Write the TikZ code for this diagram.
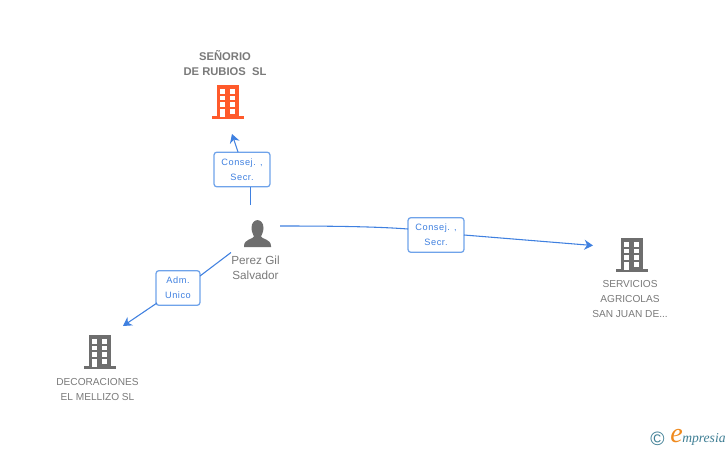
\documentclass[tikz,border=0pt]{standalone}
\usepackage{fontspec}
\setmainfont{Liberation Sans}
\newfontfamily\logofont{Liberation Serif}
\newfontfamily\roleFont[LetterSpace=6]{Liberation Sans}
\usetikzlibrary{arrows.meta}
\definecolor{linkblue}{HTML}{3F80E0}
\definecolor{boxblue}{HTML}{6FA3EA}
\definecolor{icongray}{HTML}{6E6E6E}
\definecolor{textgray}{HTML}{7A7A7A}
\definecolor{redicon}{HTML}{FF5A2B}
\definecolor{logoteal}{HTML}{3F7F95}
\definecolor{logoorange}{HTML}{F08A1E}
\tikzset{
  x=0.75pt,y=-0.75pt,
  bldg/.pic={
    \fill[pic actions] (-11,-34) rectangle (11,-2.5);
    \fill[pic actions] (-16,-2.8) rectangle (16,0);
    \foreach \wy in {-30,-23.3,-16.7}{
      \fill[white] (-7.6,\wy) rectangle (-2.8,\wy+4.6);
      \fill[white] (2.2,\wy) rectangle (7.2,\wy+4.6);
    }
    \fill[white] (-7.6,-10) rectangle (-2.8,-2.5);
    \fill[white] (2.2,-10) rectangle (7.2,-5.4);
  },
  person/.pic={
    \fill[pic actions] (-6,-19) .. controls (-6,-29.5) and (6,-29.5) .. (6,-19)
      .. controls (6,-15) and (4,-12) .. (3.5,-10.5)
      .. controls (4,-8) and (13.5,-8) .. (13.5,-1) -- (13.5,0) -- (-13.5,0) -- (-13.5,-1)
      .. controls (-13.5,-8) and (-4,-8) .. (-3.5,-10.5)
      .. controls (-4,-12) and (-6,-15) .. (-6,-19) -- cycle;
  },
  labelbox/.style={draw=boxblue,line width=0.95pt,rounded corners=2.2pt,fill=white,
    minimum width=42pt,minimum height=26pt,inner sep=0pt,align=center,
    font=\roleFont\fontsize{6.9pt}{11.2pt}\selectfont,text=linkblue},
  entname/.style={align=center,text=textgray,inner sep=0pt,
    font=\fontsize{7.6pt}{11.2pt}\selectfont},
  perslabel/.style={align=center,text=textgray,inner sep=0pt,
    font=\fontsize{8.8pt}{11.2pt}\selectfont},
  link/.style={draw=linkblue,line width=0.8pt},
  tip/.style={-{Stealth[length=6.5pt,width=7.5pt]}},
}
\begin{document}
\begin{tikzpicture}
\useasboundingbox (0,0) rectangle (728,450);
\fill[white] (0,0) rectangle (728,450);

% icons
\pic[fill=redicon] at (228,119) {bldg};
\pic[fill=icongray] at (632,272) {bldg};
\pic[fill=icongray] at (100,369) {bldg};
\pic[fill=icongray] at (257.5,247) {person};

% entity labels
\node[entname,font=\fontsize{8.4pt}{11.2pt}\selectfont\bfseries] (senorio) at (225,63) {SEÑORIO\\DE RUBIOS\ \ SL};
\node[perslabel] (perez) at (255.5,268) {Perez Gil\\Salvador};
\node[entname] (servicios) at (630,299) {SERVICIOS\\AGRICOLAS\\SAN JUAN DE...};
\node[entname] (decor) at (97.5,389.5) {DECORACIONES\\EL MELLIZO SL};

% role boxes
\node[labelbox] (b1) at (242,169.5) {Consej. ,\\Secr.};
\node[labelbox] (b2) at (436,235) {Consej. ,\\Secr.};
\node[labelbox,minimum width=33pt] (b3) at (178,288) {Adm.\\Unico};

% free ends
\coordinate (p1) at (250.5,205);
\coordinate (p2) at (280,226);
\coordinate (p3) at (231,252.5);
\coordinate (e1) at (250.5,187);
\coordinate (s1) at (238,152);
\coordinate (e2) at (408,229);
\coordinate (s2) at (464,235);
\coordinate (e3) at (200,276);
\coordinate (s3) at (157,303);
\coordinate (t1) at (232,134);
\coordinate (t2) at (593,245.5);
\coordinate (t3) at (123,326);

% connectors
\draw[link] (p1) -- (e1);
\draw[link,tip] (s1) -- (t1);
\draw[link] (p2) .. controls (330,226) and (375,226.5) .. (e2);
\draw[link,tip] (s2) -- (t2);
\draw[link] (p3) -- (e3);
\draw[link,tip] (s3) -- (t3);

% logo
\node[text=logoteal,inner sep=0pt,font=\fontsize{14.5pt}{14.5pt}\selectfont] (copyr) at (657.5,438.5) {©};
\node[text=logoorange,inner sep=0pt,font=\logofont\itshape\fontsize{21pt}{21pt}\selectfont] (logoe) at (676.5,436.5) {e};
\node[text=logoteal,inner sep=0pt,anchor=west,font=\logofont\itshape\fontsize{10.2pt}{10.2pt}\selectfont] (logot) at (682,439) {mpresia};
\end{tikzpicture}
\end{document}
